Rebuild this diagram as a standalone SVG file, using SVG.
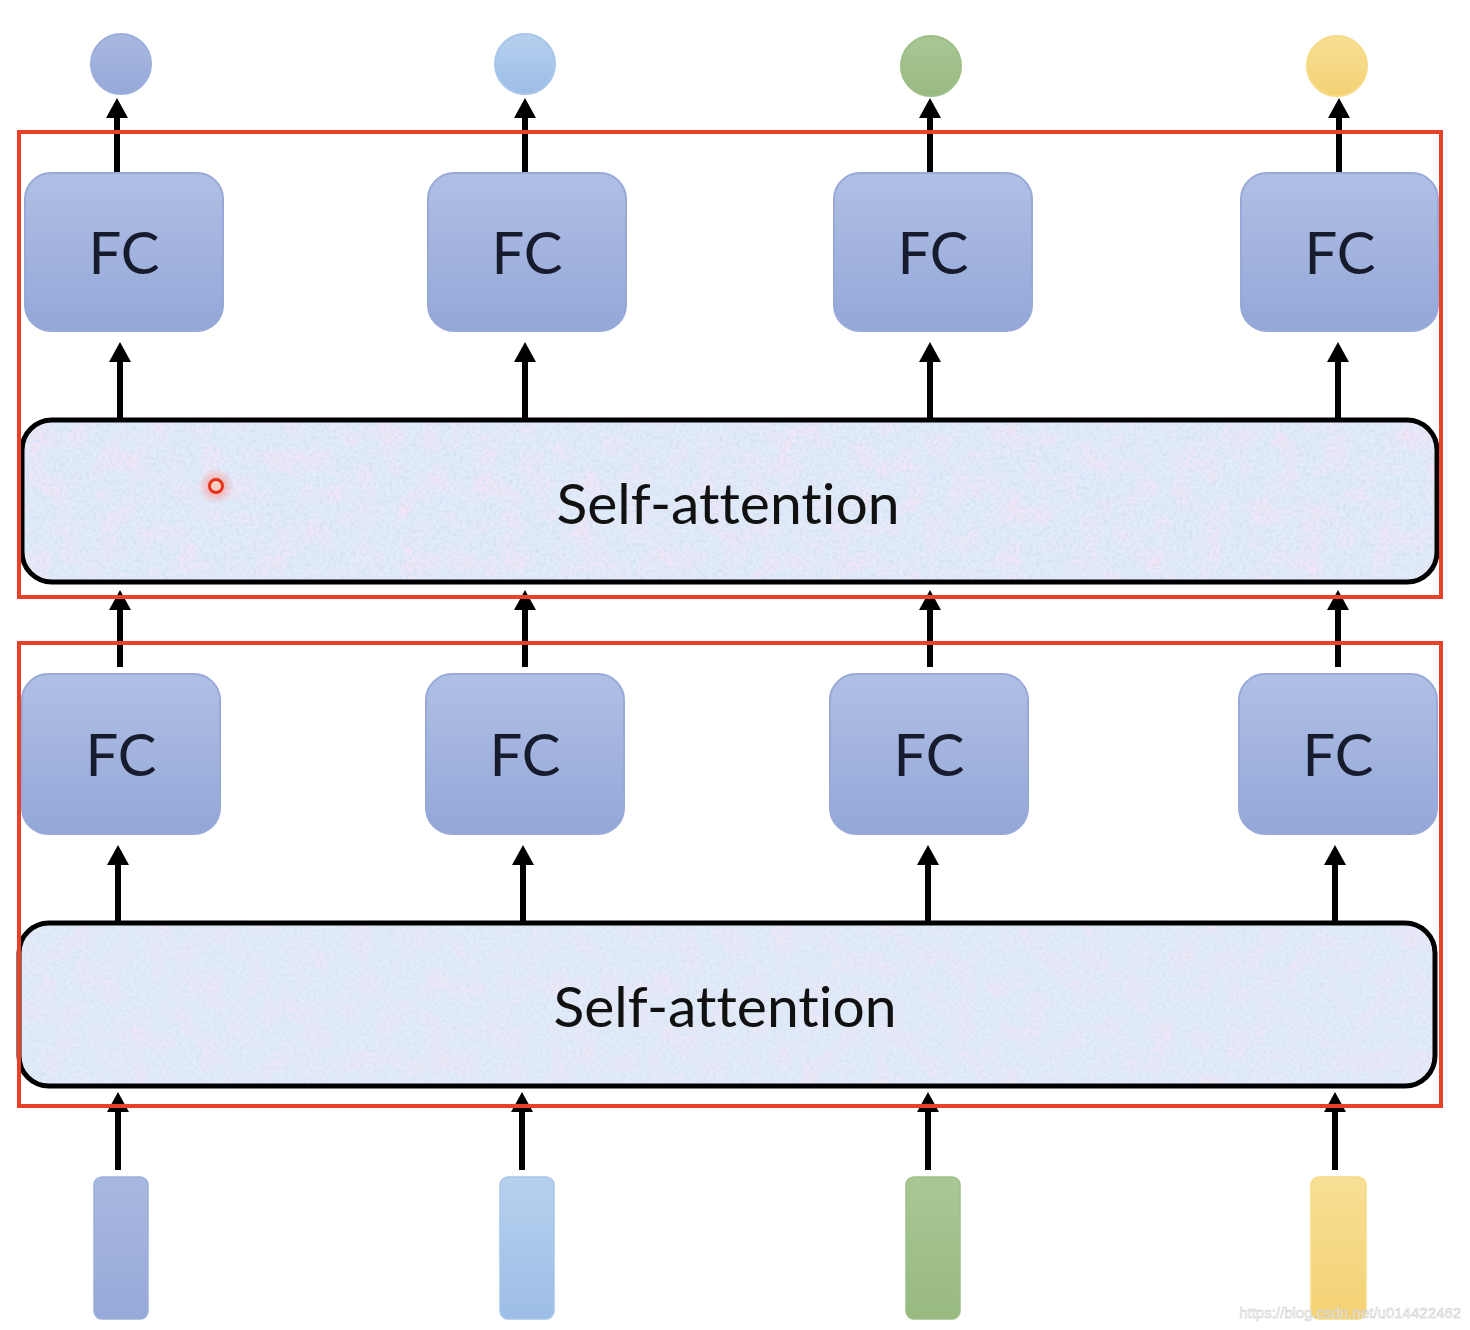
<svg xmlns="http://www.w3.org/2000/svg" width="1470" height="1330" viewBox="0 0 1470 1330">
<style>
.fc{fill:url(#gFC);stroke:#98a9d9;stroke-width:2}
.fct{font-family:Lato,"Open Sans","Liberation Sans",sans-serif;font-size:58px;fill:#161b2e;text-anchor:middle}
.sa{fill:#e2ebf8;stroke:#000;stroke-width:5}
.sat{font-family:Lato,"Open Sans","Liberation Sans",sans-serif;font-size:57px;fill:#111;text-anchor:middle;font-variant-ligatures:none}
.red{fill:none;stroke:#e8412a;stroke-width:4}
.ar{stroke:#000;stroke-width:6;fill:none;marker-end:url(#ah)}
</style>
<defs>
<linearGradient id="gFC" x1="0" y1="0" x2="0" y2="1"><stop offset="0" stop-color="#b0bfe4"/><stop offset="1" stop-color="#93a7d8"/></linearGradient>
<linearGradient id="gC1" x1="0" y1="0" x2="0" y2="1"><stop offset="0" stop-color="#a9b8e0"/><stop offset="1" stop-color="#95a9d8"/></linearGradient>
<linearGradient id="gC2" x1="0" y1="0" x2="0" y2="1"><stop offset="0" stop-color="#b7d0ee"/><stop offset="1" stop-color="#9cbde6"/></linearGradient>
<linearGradient id="gC3" x1="0" y1="0" x2="0" y2="1"><stop offset="0" stop-color="#a9c795"/><stop offset="1" stop-color="#97ba80"/></linearGradient>
<linearGradient id="gC4" x1="0" y1="0" x2="0" y2="1"><stop offset="0" stop-color="#f8df95"/><stop offset="1" stop-color="#f4d274"/></linearGradient>
<filter id="tex" x="0" y="0" width="100%" height="100%">
<feTurbulence type="fractalNoise" baseFrequency="0.3" numOctaves="3" seed="3" result="n"/>
<feColorMatrix in="n" type="matrix" values="0 0 0 0 0.62  0 0 0 0 0.74  0 0 0 0 0.93  0 0 0 2.2 -0.9" result="c"/>
<feTurbulence type="fractalNoise" baseFrequency="0.04" numOctaves="2" seed="8" result="n2"/>
<feColorMatrix in="n2" type="matrix" values="0 0 0 0 0.92  0 0 0 0 0.78  0 0 0 0 0.92  0 0 0 2.5 -1.1" result="p"/>
<feMerge result="m"><feMergeNode in="p"/><feMergeNode in="c"/></feMerge>
<feComposite in="m" in2="SourceGraphic" operator="in"/>
</filter>
<radialGradient id="glow"><stop offset="0" stop-color="#ff6a50" stop-opacity="0.6"/><stop offset="1" stop-color="#ff6a50" stop-opacity="0"/></radialGradient>
<marker id="ah" markerUnits="userSpaceOnUse" markerWidth="24" markerHeight="24" viewBox="0 0 24 24" refX="8" refY="11" orient="auto">
<path d="M0,0 L20,11 L0,22 Z" fill="#000"/>
</marker>
</defs>

<g id="outputs">
<circle id="out1" cx="121" cy="64" r="30" fill="url(#gC1)" stroke="#9caedb" stroke-width="2"/>
<circle id="out2" cx="525" cy="64" r="30" fill="url(#gC2)" stroke="#a8c6ea" stroke-width="2"/>
<circle id="out3" cx="931" cy="66" r="30" fill="url(#gC3)" stroke="#9ebf88" stroke-width="2"/>
<circle id="out4" cx="1337" cy="66" r="30" fill="url(#gC4)" stroke="#f6da85" stroke-width="2"/>
</g>

<g id="connectors">
<line class="ar" x1="117" y1="173" x2="117" y2="110"/>
<line class="ar" x1="525" y1="173" x2="525" y2="110"/>
<line class="ar" x1="930" y1="173" x2="930" y2="110"/>
<line class="ar" x1="1339" y1="173" x2="1339" y2="110"/>

<line class="ar" x1="120" y1="420" x2="120" y2="354"/>
<line class="ar" x1="525" y1="420" x2="525" y2="354"/>
<line class="ar" x1="930" y1="420" x2="930" y2="354"/>
<line class="ar" x1="1338" y1="420" x2="1338" y2="354"/>

<line class="ar" x1="120" y1="667" x2="120" y2="602"/>
<line class="ar" x1="525" y1="667" x2="525" y2="602"/>
<line class="ar" x1="930" y1="667" x2="930" y2="602"/>
<line class="ar" x1="1338" y1="667" x2="1338" y2="602"/>

<line class="ar" x1="118" y1="923" x2="118" y2="857"/>
<line class="ar" x1="523" y1="923" x2="523" y2="857"/>
<line class="ar" x1="928" y1="923" x2="928" y2="857"/>
<line class="ar" x1="1335" y1="923" x2="1335" y2="857"/>

<line class="ar" x1="118" y1="1170" x2="118" y2="1104"/>
<line class="ar" x1="522" y1="1170" x2="522" y2="1104"/>
<line class="ar" x1="928" y1="1170" x2="928" y2="1104"/>
<line class="ar" x1="1335" y1="1170" x2="1335" y2="1104"/>
</g>

<g id="fc-top">
<g id="fc1"><rect class="fc" x="25" y="173" width="198" height="158" rx="26"/><text class="fct" x="124" y="274">FC</text></g>
<g id="fc2"><rect class="fc" x="428" y="173" width="198" height="158" rx="26"/><text class="fct" x="527" y="274">FC</text></g>
<g id="fc3"><rect class="fc" x="834" y="173" width="198" height="158" rx="26"/><text class="fct" x="933" y="274">FC</text></g>
<g id="fc4"><rect class="fc" x="1241" y="173" width="197" height="158" rx="26"/><text class="fct" x="1340" y="274">FC</text></g>
</g>

<g id="sa-top">
<rect class="sa" x="22" y="420" width="1415" height="162" rx="30"/>
<rect x="25" y="423" width="1409" height="156" rx="28" fill="#fff" filter="url(#tex)" opacity="0.85"/>
<text class="sat" x="728" y="524">Self-attention</text>
<circle cx="216" cy="486" r="18" fill="url(#glow)"/>
<circle cx="216" cy="486" r="6.5" fill="#fbd0c4" stroke="#e8341c" stroke-width="3"/>
</g>

<g id="fc-bottom">
<g id="fc5"><rect class="fc" x="22" y="674" width="198" height="160" rx="26"/><text class="fct" x="121" y="776">FC</text></g>
<g id="fc6"><rect class="fc" x="426" y="674" width="198" height="160" rx="26"/><text class="fct" x="525" y="776">FC</text></g>
<g id="fc7"><rect class="fc" x="830" y="674" width="198" height="160" rx="26"/><text class="fct" x="929" y="776">FC</text></g>
<g id="fc8"><rect class="fc" x="1239" y="674" width="198" height="160" rx="26"/><text class="fct" x="1338" y="776">FC</text></g>
</g>

<g id="sa-bottom">
<rect class="sa" x="19" y="923" width="1416" height="163" rx="30"/>
<rect x="22" y="926" width="1410" height="157" rx="28" fill="#fff" filter="url(#tex)" opacity="0.65"/>
<text class="sat" x="725" y="1027">Self-attention</text>
</g>

<g id="frames">
<rect id="layer-top" class="red" x="19" y="132" width="1422" height="465"/>
<rect id="layer-bottom" class="red" x="19" y="643" width="1422" height="463"/>
</g>

<g id="inputs">
<rect id="in1" x="94" y="1177" width="54" height="142" rx="8" fill="url(#gC1)" stroke="#9caedb" stroke-width="1.5"/>
<rect id="in2" x="500" y="1177" width="54" height="142" rx="8" fill="url(#gC2)" stroke="#a8c6ea" stroke-width="1.5"/>
<rect id="in3" x="906" y="1177" width="54" height="142" rx="8" fill="url(#gC3)" stroke="#9ebf88" stroke-width="1.5"/>
<rect id="in4" x="1311" y="1177" width="55" height="142" rx="8" fill="url(#gC4)" stroke="#f6da85" stroke-width="1.5"/>
</g>

<text x="1461" y="1318" font-family="'Liberation Sans',Arial,sans-serif" font-size="15" fill="#ffffff" fill-opacity="0.75" stroke="#c8c8c8" stroke-width="0.5" text-anchor="end">https://blog.csdn.net/u014422462</text>
</svg>
